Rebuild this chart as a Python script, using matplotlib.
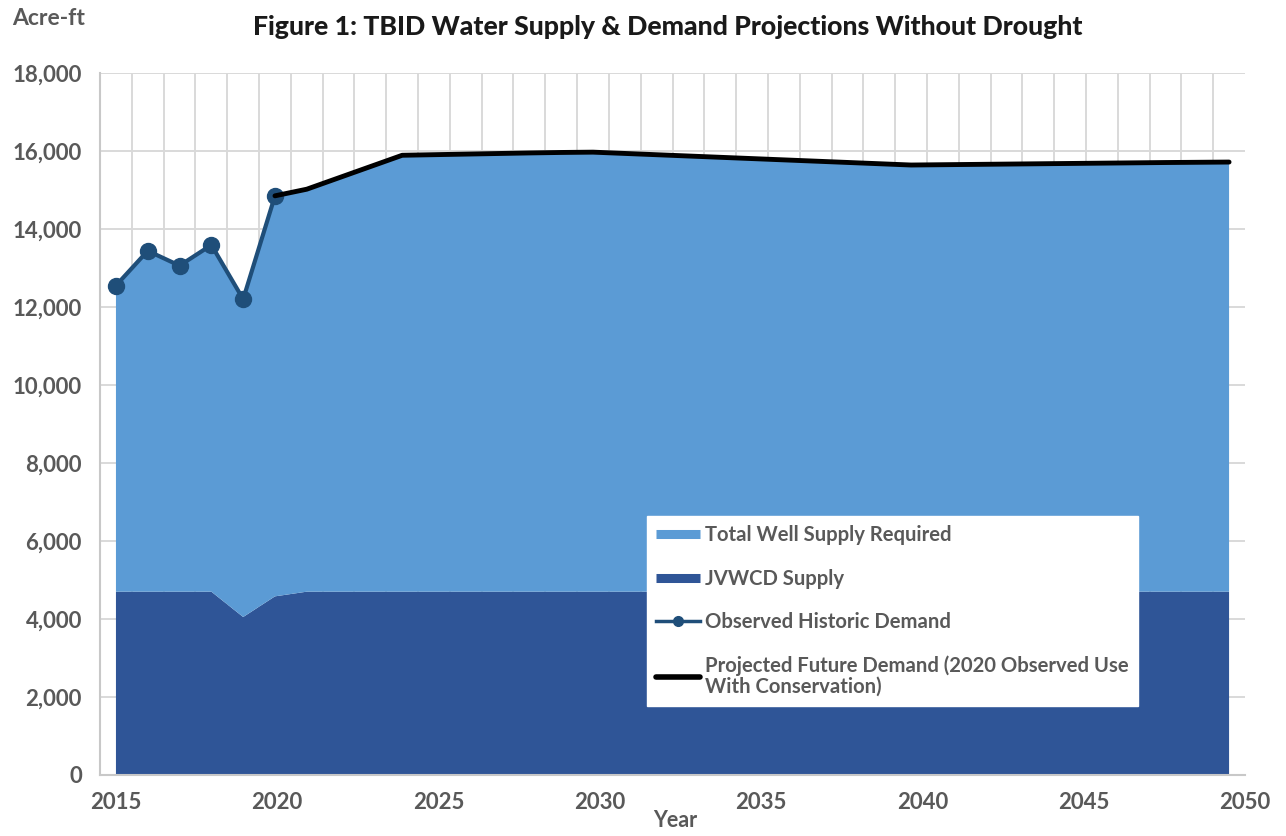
import numpy as np
import matplotlib.pyplot as plt
from matplotlib.lines import Line2D
from matplotlib.ticker import FuncFormatter, MultipleLocator

plt.rcParams['font.family'] = ['Lato', 'DejaVu Sans']

# observed historic demand (acre-ft)
obs_years = [2015, 2016, 2017, 2018, 2019, 2020]
obs_demand = [12550, 13440, 13060, 13590, 12200, 14850]

# projected future demand (2020 observed use with conservation)
proj_years = list(range(2020, 2051))
proj_demand = [14850, 15020, 15310, 15600, 15890,
               15905, 15920, 15935, 15950, 15962, 15970,
               15937, 15904, 15871, 15838, 15805, 15772, 15739, 15706, 15673, 15640,
               15648, 15656, 15664, 15672, 15680, 15688, 15696, 15704, 15710, 15716]

# JVWCD supply
years = list(range(2015, 2051))
jvwcd = [4700, 4700, 4700, 4700, 4050, 4580] + [4700] * 30

# total demand = observed through 2019, projected from 2020
total = obs_demand[:5] + proj_demand
well = [t - j for t, j in zip(total, jvwcd)]

tick_years = [2015, 2020, 2025, 2030, 2035, 2040, 2045, 2050]

light = '#5B9BD5'
dark = '#2F5597'
obs_col = '#1F4E79'
txt = '#595959'

fig = plt.figure(figsize=(12.86, 8.36), dpi=100)
ax = fig.add_axes([0.0778, 0.073, 0.8903, 0.8397])

ax.stackplot(years, jvwcd, well, colors=[dark, light], linewidth=0, zorder=2)
ax.plot(obs_years, obs_demand, color=obs_col, lw=3, marker='o', ms=11.5, zorder=4)
ax.plot(proj_years, proj_demand, color='black', lw=3.5, solid_capstyle='round', zorder=5)

ax.set_xlim(2014.5, 2050.5)
ax.set_ylim(0, 18000)
# the year labels are spread evenly from the first point to the right edge
ax.set_xticks(np.linspace(2015, 2050.5, len(tick_years)))
ax.set_xticklabels([str(y) for y in tick_years])
ax.set_xticks(np.arange(2014.5, 2051, 1), minor=True)
ax.yaxis.set_major_locator(MultipleLocator(2000))
ax.yaxis.set_major_formatter(FuncFormatter(lambda v, p: f'{int(v):,}'))
ax.grid(True, which='major', axis='y', color='#D9D9D9', lw=1.4, zorder=0)
ax.grid(True, which='minor', axis='x', color='#D9D9D9', lw=1.4, zorder=0)
ax.set_axisbelow(True)
ax.tick_params(which='both', length=0)
ax.tick_params(axis='both', labelsize=16, labelcolor=txt)
ax.tick_params(axis='x', pad=12)
ax.tick_params(axis='y', pad=13)
for lab in ax.get_xticklabels() + ax.get_yticklabels():
    lab.set_fontweight('bold')
for s in ['top', 'right']:
    ax.spines[s].set_visible(False)
for s in ['left', 'bottom']:
    ax.spines[s].set_color('#C8C8C8')
    ax.spines[s].set_linewidth(1.5)

fig.text(0.519, 0.968, 'Figure 1: TBID Water Supply & Demand Projections Without Drought',
         ha='center', va='center', fontsize=19.2, fontweight='black', color='#1A1A1A')
fig.text(0.0093, 0.978, 'Acre-ft', ha='left', va='center', fontsize=16.5,
         fontweight='bold', color=txt)
fig.text(0.525, 0.019, 'Year', ha='center', va='center', fontsize=15.5,
         fontweight='bold', color=txt)

handles = [
    Line2D([], [], color=light, lw=6.5, solid_capstyle='butt'),
    Line2D([], [], color=dark, lw=6.5, solid_capstyle='butt'),
    Line2D([], [], color=obs_col, lw=2.5, marker='o', ms=7),
    Line2D([], [], color='black', lw=4, solid_capstyle='round'),
]
labels = ['Total Well Supply Required', 'JVWCD Supply', 'Observed Historic Demand',
          'Projected Future Demand (2020 Observed Use\nWith Conservation)']
leg = ax.legend(handles, labels, loc='upper left', bbox_to_anchor=(0.4777, 0.3689),
                borderaxespad=0, fontsize=14.6, frameon=True, fancybox=False,
                framealpha=1, edgecolor='white', handlelength=2.17,
                handletextpad=0.25, labelspacing=1.16, borderpad=0.45)
for t in leg.get_texts():
    t.set_color(txt)
    t.set_fontweight('bold')
    t.set_linespacing(1.05)

fig.savefig('out.png', dpi=100)
